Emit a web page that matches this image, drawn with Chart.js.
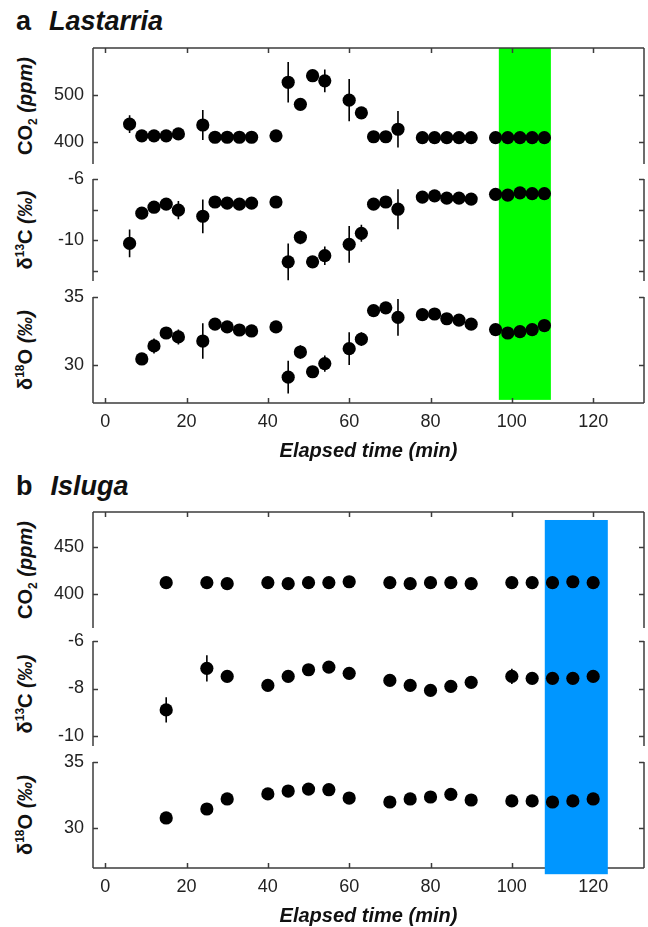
<!DOCTYPE html>
<html>
<head>
<meta charset="utf-8">
<script src="https://cdn.jsdelivr.net/npm/chart.js@4.4.1/dist/chart.umd.min.js"></script>
<style>
  html, body { margin: 0; padding: 0; background: #fff; overflow: hidden; }
  body { width: 648px; height: 927px; position: relative; font-family: "Liberation Sans", Arial, sans-serif; }
  canvas { position: absolute; left: 0; }
  .title { position: absolute; left: 16px; font-size: 27px; font-weight: bold; line-height: 26px; color: #111; white-space: nowrap; }
  .title i { margin-left: 18px; }
  .ylab { position: absolute; left: 25px; transform: translate(-50%, -50%) rotate(-90deg);
          font-size: 20px; font-weight: bold; white-space: nowrap; color: #111; }
  .ylab sub, .ylab sup { font-size: 12px; line-height: 0; }
</style>
</head>
<body>
<div class="title" style="top:8px">a<i>Lastarria</i></div>
<div class="title" style="top:473px">b<i>Isluga</i></div>

<div class="ylab" style="top:106px">CO<sub>2</sub> <i>(ppm)</i></div>
<div class="ylab" style="top:230px">δ<sup>13</sup>C <i>(‰)</i></div>
<div class="ylab" style="top:350px">δ<sup>18</sup>O <i>(‰)</i></div>
<div class="ylab" style="top:570px">CO<sub>2</sub> <i>(ppm)</i></div>
<div class="ylab" style="top:694px">δ<sup>13</sup>C <i>(‰)</i></div>
<div class="ylab" style="top:815px">δ<sup>18</sup>O <i>(‰)</i></div>

<script>
// ================= DATA =================
const xTicks = [0, 20, 40, 60, 80, 100, 120];

// ---- a: Lastarria ----
const tA = [6, 9, 12, 15, 18, 24, 27, 30, 33, 36, 42, 45, 48, 51, 54, 60, 63, 66, 69, 72, 78, 81, 84, 87, 90, 96, 99, 102, 105, 108];
const co2A = [438, 413, 413, 413, 417, 436, 410, 410, 410, 410, 413, 527, 480, 541, 530, 489, 462, 411, 411, 427, 409, 409, 409, 409, 409, 409, 409, 409, 409, 409];
const co2ErrA = [19, 0, 0, 0, 0, 32, 0, 0, 0, 0, 0, 43, 10, 12, 24, 45, 10, 0, 0, 39, 0, 0, 0, 0, 0, 0, 0, 0, 0, 0];
const d13cA = [-10.2, -8.23, -7.84, -7.64, -8.03, -8.43, -7.5, -7.57, -7.64, -7.57, -7.5, -11.4, -9.8, -11.4, -11.0, -10.26, -9.54, -7.64, -7.5, -7.97, -7.18, -7.1, -7.25, -7.25, -7.31, -7.0, -7.05, -6.9, -6.95, -6.95];
const d13cErrA = [0.9, 0, 0, 0, 0.6, 1.1, 0, 0, 0, 0, 0, 1.2, 0.45, 0, 0.6, 1.2, 0.55, 0, 0, 1.3, 0, 0, 0, 0, 0, 0, 0, 0, 0, 0];
const d18oA = [null, 30.44, 31.4, 32.35, 32.06, 31.76, 33.0, 32.8, 32.57, 32.5, 32.8, 29.1, 30.95, 29.5, 30.1, 31.2, 31.9, 34.0, 34.2, 33.5, 33.7, 33.75, 33.4, 33.3, 33.0, 32.6, 32.35, 32.45, 32.6, 32.9];
const d18oErrA = [0, 0, 0.55, 0, 0.55, 1.3, 0, 0, 0, 0, 0, 1.2, 0.5, 0, 0.6, 1.2, 0.5, 0, 0, 1.35, 0, 0, 0, 0, 0, 0, 0, 0, 0, 0];
const bandA = [96.8, 109.6];

// ---- b: Isluga ----
const tB = [15, 25, 30, 40, 45, 50, 55, 60, 70, 75, 80, 85, 90, 100, 105, 110, 115, 120];
const co2B = [412, 412, 411, 412, 411, 412, 412, 413, 412, 411, 412, 412, 411, 412, 412, 412, 413, 412];
const co2ErrB = [0, 0, 0, 0, 0, 0, 0, 0, 0, 0, 0, 0, 0, 0, 0, 0, 0, 0];
const d13cB = [-8.9, -7.15, -7.49, -7.87, -7.49, -7.21, -7.1, -7.36, -7.66, -7.87, -8.08, -7.91, -7.74, -7.49, -7.57, -7.57, -7.57, -7.49];
const d13cErrB = [0.53, 0.55, 0, 0, 0, 0, 0, 0, 0, 0, 0, 0, 0, 0.32, 0, 0, 0, 0];
const d18oB = [30.76, 31.44, 32.2, 32.58, 32.8, 32.95, 32.9, 32.27, 31.97, 32.2, 32.35, 32.55, 32.12, 32.05, 32.05, 31.97, 32.05, 32.2];
const d18oErrB = [0.4, 0, 0, 0, 0, 0, 0, 0, 0, 0, 0, 0, 0, 0, 0, 0, 0, 0];
const bandB = [108.1, 123.6];

// tick values / labelled ticks
const co2TicksA = [400, 500];
const d13cTicksA = [-6, -8, -10, -12];
const d13cLabelsA = [-6, -10];
const co2TicksB = [400, 450];
const d13cTicksB = [-6, -8, -10];
const d18oTicks = [30, 35];

// ================= DECOR PLUGIN (band, frame, error bars) =================
const FONT = "'Liberation Sans', Arial, sans-serif";
const AXIS = "#3c3c3c";

const decorPlugin = {
  id: "decor",
  beforeDatasetsDraw(chart, args, o) {
    const { ctx, chartArea: a, scales: { x, y } } = chart;

    const drawBand = () => {
      const x0 = x.getPixelForValue(o.band[0]);
      const x1 = x.getPixelForValue(o.band[1]);
      const y0 = o.bandTop != null ? y.getPixelForValue(o.bandTop) : 0;
      const y1 = o.bandBottom != null ? y.getPixelForValue(o.bandBottom) : chart.height;
      ctx.save();
      ctx.fillStyle = o.bandColor;
      ctx.fillRect(x0, y0, x1 - x0, y1 - y0);
      ctx.restore();
    };

    const drawFrame = () => {
      ctx.save();
      ctx.strokeStyle = AXIS;
      ctx.lineWidth = 1.5;
      ctx.beginPath();
      ctx.moveTo(a.left, a.top); ctx.lineTo(a.left, a.bottom);
      ctx.moveTo(a.right, a.top); ctx.lineTo(a.right, a.bottom);
      o.yTicks.forEach(v => {
        const py = Math.round(y.getPixelForValue(v)) + 0.5;
        ctx.moveTo(a.left, py); ctx.lineTo(a.left + 5, py);
        ctx.moveTo(a.right - 5, py); ctx.lineTo(a.right, py);
      });
      if (o.top) {
        ctx.moveTo(a.left, a.top); ctx.lineTo(a.right, a.top);
        xTicks.forEach(v => {
          const px = Math.round(x.getPixelForValue(v)) + 0.5;
          ctx.moveTo(px, a.top); ctx.lineTo(px, a.top + 5);
        });
      }
      if (o.bottom) {
        ctx.moveTo(a.left, a.bottom); ctx.lineTo(a.right, a.bottom);
        xTicks.forEach(v => {
          const px = Math.round(x.getPixelForValue(v)) + 0.5;
          ctx.moveTo(px, a.bottom); ctx.lineTo(px, a.bottom - 5);
        });
      }
      ctx.stroke();
      ctx.restore();
    };

    if (o.bandOver) { drawFrame(); drawBand(); } else { drawBand(); drawFrame(); }

    // error bars
    ctx.save();
    ctx.strokeStyle = "#000";
    ctx.lineWidth = 1.6;
    ctx.beginPath();
    o.t.forEach((t, i) => {
      const v = o.vals[i], e = o.errs[i];
      if (v === null || !e) return;
      const px = x.getPixelForValue(t);
      ctx.moveTo(px, y.getPixelForValue(v - e));
      ctx.lineTo(px, y.getPixelForValue(v + e));
    });
    ctx.stroke();
    ctx.restore();
  }
};

// ================= CHART FACTORY =================
function makeChart(p) {
  const cv = document.createElement("canvas");
  cv.width = 648;
  cv.height = p.height;
  cv.style.top = p.top + "px";
  document.body.appendChild(cv);

  const pts = [];
  p.t.forEach((t, i) => { if (p.vals[i] !== null) pts.push({ x: t, y: p.vals[i] }); });

  return new Chart(cv, {
    type: "scatter",
    data: {
      datasets: [{
        data: pts,
        pointRadius: 6.6,
        pointHoverRadius: 6.6,
        backgroundColor: "#000",
        borderWidth: 0,
        clip: false
      }]
    },
    options: {
      responsive: false,
      animation: false,
      events: [],
      layout: { autoPadding: false, padding: { top: p.padTop, right: 4, left: 0, bottom: 0 } },
      plugins: {
        legend: { display: false },
        tooltip: { enabled: false },
        decor: {
          t: p.t, vals: p.vals, errs: p.errs,
          yTicks: p.yTicks,
          top: p.frameTop, bottom: p.xAxis,
          band: p.band, bandTop: p.bandTop, bandBottom: p.bandBottom,
          bandColor: p.bandColor, bandOver: p.bandOver
        }
      },
      scales: {
        x: {
          type: "linear",
          min: -3,
          max: 132.5,
          afterBuildTicks: s => { s.ticks = xTicks.map(v => ({ value: v })); },
          afterFit: s => {
            s.height = p.xAxis ? 60 : 0;
            s.paddingLeft = 0; s.paddingRight = 0;
            s.paddingTop = 0; s.paddingBottom = 0;
          },
          grid: { display: false, drawTicks: false },
          border: { display: false },
          ticks: { display: p.xAxis, padding: 8, color: "#222", font: { family: FONT, size: 18 } },
          title: {
            display: p.xAxis,
            text: "Elapsed time (min)",
            color: "#111",
            padding: 0,
            font: { family: FONT, size: 20, weight: "bold", style: "italic" }
          }
        },
        y: {
          type: "linear",
          min: p.yMin,
          max: p.yMax,
          afterBuildTicks: s => { s.ticks = p.yTicks.map(v => ({ value: v })); },
          afterFit: s => { s.width = 93; s.paddingTop = 0; s.paddingBottom = 0; },
          grid: { display: false, drawTicks: false },
          border: { display: false },
          ticks: {
            padding: 9,
            color: "#222",
            font: { family: FONT, size: 18 },
            callback: v => (p.yLabels.includes(v) ? String(v) : "")
          }
        }
      }
    },
    plugins: [decorPlugin]
  });
}

// ================= PANELS =================
const GREEN = "#00ff00";
const BLUE = "#0096ff";

// a: Lastarria
makeChart({ top: 40, height: 124, padTop: 8, t: tA, vals: co2A, errs: co2ErrA,
  yMin: 353, yMax: 600, yTicks: co2TicksA, yLabels: co2TicksA,
  frameTop: true, xAxis: false, band: bandA, bandTop: 600, bandColor: GREEN });
makeChart({ top: 164, height: 117, padTop: 15, t: tA, vals: d13cA, errs: d13cErrA,
  yMin: -12.65, yMax: -6, yTicks: d13cTicksA, yLabels: d13cLabelsA,
  frameTop: false, xAxis: false, band: bandA, bandColor: GREEN });
makeChart({ top: 281, height: 182, padTop: 16, t: tA, vals: d18oA, errs: d18oErrA,
  yMin: 27.2, yMax: 35, yTicks: d18oTicks, yLabels: d18oTicks,
  frameTop: false, xAxis: true, band: bandA, bandBottom: 27.43, bandColor: GREEN });

// b: Isluga
makeChart({ top: 504, height: 124, padTop: 8, t: tB, vals: co2B, errs: co2ErrB,
  yMin: 363.8, yMax: 487.2, yTicks: co2TicksB, yLabels: co2TicksB,
  frameTop: true, xAxis: false, band: bandB, bandTop: 478.7, bandColor: BLUE, bandOver: true });
makeChart({ top: 628, height: 118, padTop: 13, t: tB, vals: d13cB, errs: d13cErrB,
  yMin: -10.42, yMax: -6, yTicks: d13cTicksB, yLabels: d13cTicksB,
  frameTop: false, xAxis: false, band: bandB, bandColor: BLUE, bandOver: true });
makeChart({ top: 746, height: 182, padTop: 16, t: tB, vals: d18oB, errs: d18oErrB,
  yMin: 26.97, yMax: 35, yTicks: d18oTicks, yLabels: d18oTicks,
  frameTop: false, xAxis: true, band: bandB, bandBottom: 26.5, bandColor: BLUE, bandOver: true });
</script>
</body>
</html>
